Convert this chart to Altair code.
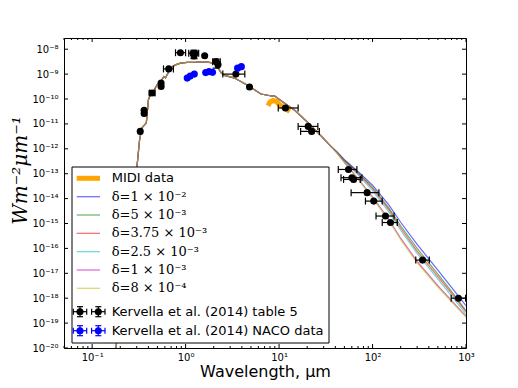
import altair as alt
import pandas as pd

# ---------------- data ----------------
# model SED, common part (all delta values identical here): wavelength [um], log10 flux
common_wl = [0.175, 0.183, 0.20, 0.25, 0.301, 0.322, 0.341, 0.38, 0.40, 0.42,
             0.46, 0.50, 0.54, 0.56, 0.583, 0.61, 0.66, 0.72, 0.78, 0.88,
             1.04, 1.30, 1.58, 1.78, 2.0, 2.2, 2.4, 2.6, 3.3, 4.6,
             6.4, 8.3, 9.0, 10.6, 14.7, 20.5, 28.5, 35.0]
common_logf = [-20.5, -19.74, -18.79, -15.5, -12.76, -11.63, -11.16, -10.96, -10.03, -9.83,
               -9.65, -9.40, -9.30, -9.22, -9.10, -9.15, -8.90, -8.70, -8.63, -8.56,
               -8.53, -8.52, -8.50, -8.53, -8.56, -8.72, -8.95, -9.05, -9.15, -9.45,
               -9.80, -9.88, -9.88, -10.08, -10.45, -10.96, -11.50, -11.86]

# long-wavelength tails (differ per delta)
tail_wl = [41.5, 50, 70, 100, 150, 200, 300, 500, 700, 1000]
tail_blue = [-12.12, -12.44, -12.91, -13.46, -14.26, -14.95, -15.84, -16.87, -17.57, -18.30]
tail_green = [-12.13, -12.46, -12.96, -13.54, -14.38, -15.09, -16.00, -17.03, -17.73, -18.50]
tail_red = [-12.13, -12.47, -12.99, -13.60, -14.45, -15.18, -16.11, -17.13, -17.81, -18.54]
tail_cyan = [-12.14, -12.49, -13.05, -13.68, -14.54, -15.27, -16.20, -17.23, -17.91, -18.63]
tail_magenta = [-12.16, -12.54, -13.20, -13.93, -14.84, -15.59, -16.52, -17.50, -18.10, -18.72]
tail_yellow = [-12.16, -12.55, -13.23, -13.98, -14.90, -15.65, -16.58, -17.55, -18.15, -18.76]

series_labels = ["δ=1 × 10⁻²", "δ=5 × 10⁻³", "δ=3.75 × 10⁻³",
                 "δ=2.5 × 10⁻³", "δ=1 × 10⁻³", "δ=8 × 10⁻⁴"]
series_tails = [tail_blue, tail_green, tail_red, tail_cyan, tail_magenta, tail_yellow]
series_colors = ["#0000FF", "#008000", "#FF0000", "#00BFBF", "#BF00BF", "#BFBF00"]

# MIDI spectrum
midi_wl = [7.6, 8.0, 8.6, 9.35, 10.1, 11.5, 13.0]
midi_logf = [-10.27, -10.12, -10.06, -10.10, -10.23, -10.36, -10.50]

# Kervella et al. (2014) table 5
kt_wl = [0.327, 0.36, 0.36, 0.437, 0.547, 0.547, 0.66, 0.88, 1.20, 1.26, 1.23, 1.60,
         2.12, 2.22, 3.45, 4.83, 11.7, 20.5, 22.3, 55.3, 60.2, 62.7, 87.5, 103,
         137.5, 155.6, 343, 830]
kt_logf = [-11.30, -10.45, -10.58, -9.76, -9.36, -9.50, -8.79, -8.14, -8.16, -8.16, -8.27, -8.26,
           -8.50, -8.62, -9.0, -9.52, -10.36, -11.10, -11.30, -12.83, -13.16, -13.23, -13.76, -14.10,
           -14.70, -14.96, -16.47, -18.0]
kt_xlo = [None, None, None, 0.41, None, None, 0.58, 0.78, 1.08, None, None, None,
          1.95, None, 2.5, None, 9.8, 16.0, 17.0, 43.0, 46.0, 49.0, 59.0, 84.0,
          109, 127, 290, 694]
kt_xhi = [None, None, None, 0.47, None, None, 0.74, 1.0, 1.38, None, None, None,
          2.35, None, 4.3, None, 16.0, 26.0, 27.0, 68.0, 77.0, 74.0, 117, 127,
          170, 184, 405, 990]
kt_ylo = [None, None, None, -9.84, None, None, None, None, None, None, -8.38, None,
          -8.76, None, None, None, None, None, None, None, None, None, None, None,
          None, None, None, None]
kt_yhi = [None, None, None, -9.68, None, None, None, None, None, None, -8.04, None,
          -8.40, None, None, None, None, None, None, None, None, None, None, None,
          None, None, None, None]

# Kervella et al. (2014) NACO
naco_wl = [1.04, 1.12, 1.24, 1.64, 1.78, 1.94, 3.6, 3.95]
naco_logf = [-9.16, -9.08, -9.0, -8.94, -8.90, -8.93, -8.76, -8.70]

# axis ticks
x_major = [0.1, 1, 10, 100, 1000]
x_tick_labels = ["10⁻¹", "10⁰", "10¹", "10²", "10³"]
y_major = [1e-8, 1e-9, 1e-10, 1e-11, 1e-12, 1e-13, 1e-14, 1e-15, 1e-16,
           1e-17, 1e-18, 1e-19, 1e-20]
y_tick_labels = ["10⁻⁸", "10⁻⁹", "10⁻¹⁰", "10⁻¹¹", "10⁻¹²", "10⁻¹³", "10⁻¹⁴",
                 "10⁻¹⁵", "10⁻¹⁶", "10⁻¹⁷", "10⁻¹⁸", "10⁻¹⁹", "10⁻²⁰"]
x_minor = [m * 10.0 ** e for e in range(-2, 3) for m in range(2, 10)
           if 0.05 <= m * 10.0 ** e <= 1000]

legend_other = ["MIDI data", "Kervella et al. (2014) table 5", "Kervella et al. (2014) NACO data"]

# ---------------- layout ----------------
W, H = 402, 310
xs = alt.Scale(type="log", domain=[0.05, 1000], nice=False)
ys = alt.Scale(type="log", domain=[1e-20, 2.82e-8], nice=False)

x_label_expr = "[" + ",".join("'%s'" % s for s in x_tick_labels) + "][round(log(datum.value)/LN10)+1]"
y_label_expr = "[" + ",".join("'%s'" % s for s in y_tick_labels) + "][round(-log(datum.value)/LN10)-8]"

X_AX = alt.Axis(values=x_major, labelExpr=x_label_expr, ticks=False, tickSize=0, domain=False,
                grid=False, labelFont="DejaVu Sans", labelFontSize=10, labelColor="black",
                labelPadding=4, labelFlush=False, labelOverlap=False,
                title="Wavelength, μm", titleFont="DejaVu Sans", titleFontSize=16,
                titleFontWeight="normal", titleColor="black", titlePadding=1)
Y_AX = alt.Axis(values=y_major, labelExpr=y_label_expr, ticks=False, tickSize=0, domain=False,
                grid=False, labelFont="DejaVu Sans", labelFontSize=10, labelColor="black",
                labelPadding=6, labelFlush=False, labelOverlap=False,
                title="Wm⁻²μm⁻¹", titleFont="DejaVu Serif", titleFontStyle="italic",
                titleFontSize=20, titleFontWeight="normal", titleColor="black",
                titleX=-44, titleY=132, titleBaseline="middle", titleAlign="center")


def X(field):
    return alt.X(field, scale=xs, axis=X_AX)


def Y(field):
    return alt.Y(field, scale=ys, axis=Y_AX)


layers = []

# MIDI
midi_df = pd.DataFrame({"wl": midi_wl, "f": [10 ** v for v in midi_logf]})
layers.append(alt.Chart(midi_df).mark_line(color="#FFA500", strokeWidth=5, clip=True).encode(
    x=X("wl:Q"), y=Y("f:Q")))

# model lines
for lab, tail, col in zip(series_labels, series_tails, series_colors):
    df = pd.DataFrame({"wl": common_wl + tail_wl,
                       "f": [10 ** v for v in common_logf + tail]})
    layers.append(alt.Chart(df).mark_line(color=col, strokeWidth=1.2, opacity=0.6, clip=True).encode(
        x=X("wl:Q"), y=Y("f:Q")))

# Kervella table 5 points with error bars
kt_df = pd.DataFrame({
    "wl": kt_wl, "f": [10 ** v for v in kt_logf],
    "xlo": kt_xlo, "xhi": kt_xhi,
    "ylo": [10 ** v if v is not None else None for v in kt_ylo],
    "yhi": [10 ** v if v is not None else None for v in kt_yhi],
})
xe = kt_df.dropna(subset=["xlo"])
ye = kt_df.dropna(subset=["ylo"])
layers.append(alt.Chart(xe).mark_rule(color="black", strokeWidth=1.2).encode(
    x=X("xlo:Q"), x2="xhi:Q", y=Y("f:Q")))
for fld in ["xlo", "xhi"]:
    layers.append(alt.Chart(xe).mark_point(shape="M0,-1L0,1", size=49, color="black",
                                           strokeWidth=1.2, filled=False, opacity=1).encode(
        x=X(fld + ":Q"), y=Y("f:Q")))
layers.append(alt.Chart(ye).mark_rule(color="black", strokeWidth=1.2).encode(
    x=X("wl:Q"), y=Y("ylo:Q"), y2="yhi:Q"))
for fld in ["ylo", "yhi"]:
    layers.append(alt.Chart(ye).mark_point(shape="M-1,0L1,0", size=49, color="black",
                                           strokeWidth=1.2, filled=False, opacity=1).encode(
        x=X("wl:Q"), y=Y(fld + ":Q")))
layers.append(alt.Chart(kt_df).mark_circle(color="black", size=50, opacity=1).encode(
    x=X("wl:Q"), y=Y("f:Q")))

# NACO points
naco_df = pd.DataFrame({"wl": naco_wl, "f": [10 ** v for v in naco_logf]})
layers.append(alt.Chart(naco_df).mark_circle(color="#0000FF", size=50, opacity=1).encode(
    x=X("wl:Q"), y=Y("f:Q")))

# inward ticks
xmaj_df = pd.DataFrame({"v": x_major})
xmin_df = pd.DataFrame({"v": x_minor})
ymaj_df = pd.DataFrame({"v": y_major})
for d, L in [(xmaj_df, 4), (xmin_df, 2)]:
    layers.append(alt.Chart(d).mark_rule(color="black", strokeWidth=1).encode(
        x=X("v:Q"), y=alt.value(H), y2=alt.value(H - L)))
    layers.append(alt.Chart(d).mark_rule(color="black", strokeWidth=1).encode(
        x=X("v:Q"), y=alt.value(0), y2=alt.value(L)))
layers.append(alt.Chart(ymaj_df).mark_rule(color="black", strokeWidth=1).encode(
    y=Y("v:Q"), x=alt.value(0), x2=alt.value(4)))
layers.append(alt.Chart(ymaj_df).mark_rule(color="black", strokeWidth=1).encode(
    y=Y("v:Q"), x=alt.value(W), x2=alt.value(W - 4)))

# ---------------- legend (drawn manually) ----------------
one = pd.DataFrame({"a": [0]})
LX0, LX1, LY0, LY1 = 8, 265, 129, 305
layers.append(alt.Chart(one).mark_rect(fill="white", stroke="black", strokeWidth=1).encode(
    x=alt.value(LX0), x2=alt.value(LX1), y=alt.value(LY0), y2=alt.value(LY1)))
row_y = [140.3, 158.7, 177.0, 195.3, 213.7, 232.0, 250.3, 273.7, 292.7]
SX0, SX1, TX = 12.7, 36, 47.7
# MIDI row
layers.append(alt.Chart(one).mark_rule(color="#FFA500", strokeWidth=5).encode(
    x=alt.value(SX0), x2=alt.value(SX1), y=alt.value(row_y[0])))
layers.append(alt.Chart(one).mark_text(align="left", baseline="middle", font="DejaVu Sans",
                                       fontSize=13, color="black").encode(
    x=alt.value(TX), y=alt.value(row_y[0]), text=alt.value(legend_other[0])))
for i, (lab, col) in enumerate(zip(series_labels, series_colors)):
    yy = row_y[i + 1]
    layers.append(alt.Chart(one).mark_rule(color=col, strokeWidth=1.2, opacity=0.6).encode(
        x=alt.value(SX0), x2=alt.value(SX1), y=alt.value(yy)))
    layers.append(alt.Chart(one).mark_text(align="left", baseline="middle", font="DejaVu Serif",
                                           fontSize=13, color="black").encode(
        x=alt.value(TX), y=alt.value(yy), text=alt.value(lab)))
for k, col in enumerate(["black", "#0000FF"]):
    yy = row_y[7 + k]
    for cx in [16, 34.3]:
        # horizontal error bar with caps
        layers.append(alt.Chart(one).mark_rule(color=col, strokeWidth=1.2).encode(
            x=alt.value(cx - 6.7), x2=alt.value(cx + 6.7), y=alt.value(yy)))
        for ex in [cx - 6.7, cx + 6.7]:
            layers.append(alt.Chart(one).mark_rule(color=col, strokeWidth=1.2).encode(
                x=alt.value(ex), y=alt.value(yy - 3), y2=alt.value(yy + 3)))
        # vertical error bar with caps
        layers.append(alt.Chart(one).mark_rule(color=col, strokeWidth=1.2).encode(
            x=alt.value(cx), y=alt.value(yy - 5), y2=alt.value(yy + 5)))
        for ey in [yy - 5, yy + 5]:
            layers.append(alt.Chart(one).mark_rule(color=col, strokeWidth=1.2).encode(
                x=alt.value(cx - 3), x2=alt.value(cx + 3), y=alt.value(ey)))
        layers.append(alt.Chart(one).mark_circle(color=col, size=50, opacity=1).encode(
            x=alt.value(cx), y=alt.value(yy)))
    layers.append(alt.Chart(one).mark_text(align="left", baseline="middle", font="DejaVu Sans",
                                           fontSize=13, color="black").encode(
        x=alt.value(TX), y=alt.value(yy), text=alt.value(legend_other[1 + k])))

chart = alt.layer(*layers).properties(
    width=W, height=H,
    autosize=alt.AutoSizeParams(type="none"),
    padding={"left": 56, "top": 30, "right": 44, "bottom": 40},
).configure_view(stroke="black", strokeWidth=1).configure_axis(grid=False)

chart.save("out.html", embed_options={"renderer": "svg", "actions": False})
